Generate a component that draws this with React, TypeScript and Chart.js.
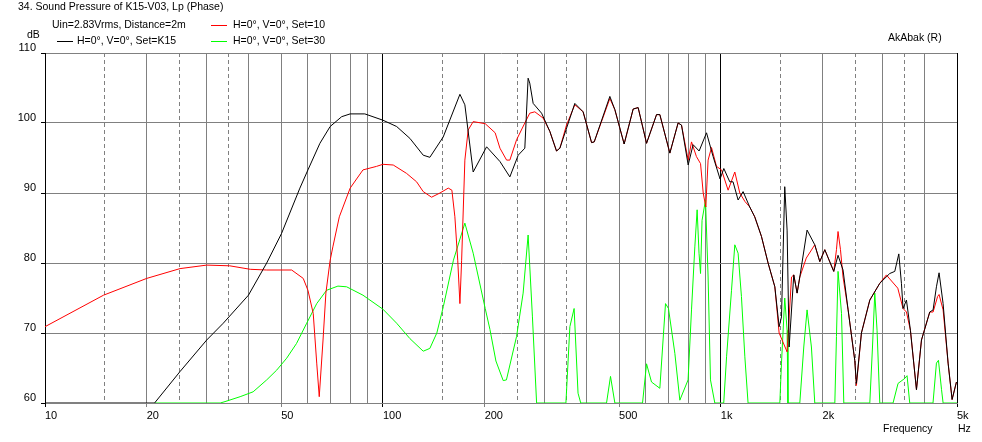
import React, { useEffect, useRef } from "react";
import { Chart, registerables } from "chart.js";

Chart.register(...registerables);

// ---- data: [frequency Hz, level dB] ----
const setK15: [number, number][] = [
  [10, 60], [21.1, 60], [25.1, 64.5], [30.1, 69], [33.7, 71.4], [40, 75.4], [45.3, 80], [50.1, 84.2],
  [56.8, 90.7], [60, 93.3], [65.1, 97.1], [69.8, 99.5], [75.5, 100.9], [80, 101.3], [88.4, 101.3],
  [100, 100.4], [109.8, 99.5], [120.2, 97.8], [131.6, 95.4], [137.7, 95.1], [150.8, 98], [169, 104.1],
  [174.8, 102.6], [185, 93], [202.7, 96.6], [222, 94.5], [237.5, 92.3], [251.4, 95.4], [263, 96.4],
  [269, 106.4], [272, 105.7], [278.4, 102.8], [294.8, 101.4], [311.9, 98.8], [326.4, 96], [334, 96.4],
  [369.8, 102.8], [391.3, 101.6], [414.5, 97.2], [422, 97.3], [469.5, 103.8], [485.8, 101.9],
  [517.5, 97], [550.4, 102], [569.3, 102.2], [602.9, 97.1], [645.4, 101.2], [660, 101.2],
  [706.6, 95.7], [747.5, 100], [765, 99.7], [800.6, 94], [827.9, 96.9], [862.6, 96], [907.2, 98.6],
  [948.9, 95.2], [995, 92], [1020.7, 93.5], [1063, 91.6], [1087, 91.6], [1125, 89], [1164, 90.2],
  [1218, 88], [1260, 86.6], [1319, 83.8], [1380, 80], [1445, 76.6], [1488, 70.9], [1512, 72.3],
  [1546, 90.9], [1571, 84.7], [1593, 68], [1644, 78.3], [1682, 75.7], [1713, 78], [1800, 84.7],
  [1897, 82.6], [1963, 80.2], [2031, 81.9], [2159, 78.8], [2223, 81.1], [2300, 79], [2381, 73.3],
  [2491, 66.1], [2519, 62.8], [2607, 70], [2760, 74.7], [2954, 77.1], [3162, 78.5], [3272, 78.8],
  [3363, 81.3], [3424, 77.1], [3462, 73.5], [3543, 74.7], [3640, 70.4], [3793, 61.9], [3925, 69],
  [4153, 73], [4248, 73.3], [4346, 76.6], [4425, 78.6], [4548, 74.2], [4706, 65.7], [4836, 60.5],
  [4981, 63],
];

const set10: [number, number][] = [
  [10, 70.9], [14.9, 75.4], [20, 77.8], [25.1, 79.2], [30.1, 79.7], [35.2, 79.6], [40.5, 79.1],
  [45.3, 79], [53.7, 79], [58.1, 77.8], [60, 76.1], [62.2, 72.8], [63.7, 65.7], [64.8, 60.9],
  [66.5, 69], [67.8, 75.7], [69.8, 80.4], [71.1, 82.3], [74.3, 86.6], [80, 90.7], [87.3, 93.3],
  [95.7, 93.8], [100, 94.1], [107.3, 94], [117.5, 92.8], [125.8, 91.6], [131.6, 90.2], [139.3, 89.4],
  [147.5, 90], [156.1, 90.7], [160, 90.4], [163.3, 86.6], [166.5, 80.4], [169, 74.2], [171, 80.4],
  [174.8, 94.7], [178.8, 99], [185, 100.2], [200.8, 99.9], [214.9, 98.6], [222, 96.4], [232.3, 94.7],
  [237.5, 94.7], [248.6, 97.6], [263, 100], [272, 101.4], [281.6, 101.6], [298, 100.7], [311.9, 98.8],
  [326.4, 96], [334, 96.4], [349.4, 99.7], [369.8, 102.6], [391.3, 101.6], [414.5, 97.2], [422, 97.3],
  [469.5, 103.5], [485.8, 101.9], [517.5, 97], [550.4, 102], [569.3, 102.2], [602.9, 97.1],
  [645.4, 101.2], [660, 101.2], [706.6, 95.7], [747.5, 100], [765, 99.7], [800.6, 94.7], [819, 97.3],
  [847, 95.2], [871, 94.2], [887, 90], [902.8, 88], [917, 94.7], [938.6, 96.5], [971, 93.8],
  [1005, 93.3], [1051, 90.4], [1100, 93], [1138, 90], [1178, 88.8], [1218, 88], [1260, 86.6],
  [1319, 83.8], [1380, 80], [1445, 76.6], [1488, 70], [1571, 67.3], [1619, 78], [1644, 78.3],
  [1682, 75.7], [1713, 78], [1790, 80.7], [1897, 82.6], [1963, 80.2], [2031, 81.9], [2159, 78.8],
  [2199, 81.9], [2223, 84.5], [2260, 81.9], [2300, 78], [2381, 73.3], [2491, 66.1], [2519, 62.5],
  [2607, 70], [2760, 74.7], [2954, 77.1], [3092, 78.3], [3126, 78], [3340, 76.4], [3462, 73.5],
  [3543, 73], [3640, 70.4], [3793, 61.9], [3925, 69], [4153, 73], [4248, 73], [4380, 75.2],
  [4425, 75.5], [4548, 73.3], [4706, 65.7], [4836, 60.5], [4981, 63],
];

const set30: [number, number][] = [
  [21.1, 60], [33, 60], [34.1, 60.2], [37.8, 60.9], [41.3, 61.6], [45.3, 63.3], [48.5, 64.7],
  [51.9, 66.4], [55.5, 68.5], [59.5, 71.4], [63.7, 74.2], [68.1, 76.1], [73.6, 76.7], [78.1, 76.6],
  [87.3, 75.4], [100, 73.4], [109.8, 71.4], [120.2, 69.2], [131.6, 67.4], [137.7, 67.8], [144.4, 70],
  [151, 73.8], [161.7, 80.4], [174.8, 85.7], [185, 81.4], [200.8, 73.5], [207.4, 70.5], [216, 66],
  [227, 63.2], [232, 63.3], [248.6, 69.5], [260, 75.7], [269, 84], [277, 72.3], [285, 60], [348, 60],
  [357.5, 70.9], [368, 73.5], [378, 61.4], [385, 60], [459, 60], [471.6, 63.8], [485.8, 60],
  [586.6, 60], [602.9, 65.6], [623.6, 63], [660, 62.1], [686, 74.2], [700, 73.5], [731.1, 67.1],
  [756.4, 60.4], [800, 63.3], [819, 73.3], [837.8, 82.3], [851, 87.6], [862, 81.4], [871, 78.5],
  [880, 86.1], [901, 89], [917, 78], [932, 63.3], [960, 60], [1020, 60], [1040, 66.6], [1075.6, 76.1],
  [1100, 82.6], [1125, 81.4], [1151, 75.2], [1178, 66.6], [1204, 60], [1495, 60], [1512, 65.7],
  [1546, 75], [1571, 70.4], [1580, 60], [1713, 60], [1760, 68], [1800, 73.3], [1854, 68], [1897, 60],
  [2175, 60], [2199, 69.5], [2223, 78.8], [2276, 72.8], [2312, 60], [2760, 60], [2811, 68],
  [2855, 75.7], [2900, 70.4], [2954, 60], [3234, 60], [3346, 62.8], [3500, 63.5], [3558, 63.9],
  [3623, 60], [4246, 60], [4346, 65.7], [4406, 66.1], [4500, 61.9], [4548, 60], [5000, 60],
];

// ---- axis tick definitions ----
const xGridFreqs = [10, 15, 20, 25, 30, 35, 40, 50, 60, 70, 80, 90, 100, 150, 200, 250, 300, 350, 400,
  500, 600, 700, 800, 900, 1000, 1500, 2000, 2500, 3000, 3500, 4000, 5000];
const xLabelFreqs = [10, 20, 50, 100, 200, 500, 1000, 2000, 5000];
const xLabelTexts = ["10", "20", "50", "100", "200", "500", "1k", "2k", "5k"];
const xDashedFreqs = [15, 25, 35, 150, 250, 350, 1500, 2500, 3500];
const xDarkFreqs = [10, 100, 1000, 5000];
const yTicks = [60, 70, 80, 90, 100, 110];

const FONT = '"Liberation Sans", Arial, sans-serif';
const GRID = "#808080";

const toXY = (arr: [number, number][]) => arr.map(([x, y]) => ({ x, y }));

export default function App() {
  const canvasRef = useRef<HTMLCanvasElement | null>(null);

  useEffect(() => {
    const canvas = canvasRef.current;
    if (!canvas) return;
    const chart = new Chart(canvas, {
      type: "line",
      data: {
        datasets: [
          { label: "H=0°, V=0°, Set=K15", data: toXY(setK15), borderColor: "#000000", borderWidth: 1, pointRadius: 0, tension: 0, order: 0 },
          { label: "H=0°, V=0°, Set=10", data: toXY(set10), borderColor: "#ff0000", borderWidth: 1, pointRadius: 0, tension: 0, order: 1 },
          { label: "H=0°, V=0°, Set=30", data: toXY(set30), borderColor: "#00ff00", borderWidth: 1, pointRadius: 0, tension: 0, order: 2 },
        ],
      },
      options: {
        responsive: false,
        animation: false,
        events: [],
        layout: { padding: { left: 0, top: 53, right: 25, bottom: 0 } },
        plugins: { legend: { display: false }, tooltip: { enabled: false }, title: { display: false } },
        scales: {
          x: {
            type: "logarithmic",
            position: "bottom",
            min: 10,
            max: 5000,
            afterBuildTicks: (s: any) => { s.ticks = xGridFreqs.map((v) => ({ value: v })); },
            afterFit: (s: any) => { s.height = 39; },
            ticks: {
              autoSkip: false,
              maxRotation: 0,
              minRotation: 0,
              align: "start",
              padding: 2,
              color: "#000",
              font: { family: FONT, size: 11 },
              callback: (v: any) => {
                const i = xLabelFreqs.indexOf(Number(v));
                return i >= 0 ? xLabelTexts[i] : "";
              },
            },
            grid: {
              lineWidth: 1,
              tickLength: 4,
              color: (ctx: any) => (ctx.tick && xDarkFreqs.includes(ctx.tick.value) ? "#000" : GRID),
              tickColor: (ctx: any) => {
                if (!ctx.tick || !xLabelFreqs.includes(ctx.tick.value)) return "rgba(0,0,0,0)";
                return xDarkFreqs.includes(ctx.tick.value) ? "#000" : GRID;
              },
            },
            border: {
              display: true,
              color: GRID,
              width: 1,
              dash: (ctx: any) => (ctx.tick && xDashedFreqs.includes(ctx.tick.value) ? [4, 3] : []),
            },
          },
          y: {
            type: "linear",
            min: 60,
            max: 110,
            afterBuildTicks: (s: any) => { s.ticks = yTicks.map((v) => ({ value: v })); },
            afterFit: (s: any) => { s.width = 45; },
            ticks: {
              padding: 5,
              labelOffset: -5,
              color: "#000",
              font: { family: FONT, size: 11 },
              callback: (v: any) => String(v),
            },
            grid: { color: GRID, lineWidth: 1, tickLength: 4, tickColor: "#000" },
            border: { display: true, color: "#000", width: 1 },
          },
        },
      },
    } as any);
    return () => chart.destroy();
  }, []);

  const txt: React.CSSProperties = {
    position: "absolute",
    font: `10.5px ${FONT}`,
    lineHeight: "13px",
    whiteSpace: "nowrap",
    color: "#000",
  };
  const seg = (left: number, top: number, color: string): React.CSSProperties => ({
    position: "absolute", left, top, width: 16, height: 1, background: color,
  });

  return (
    <div style={{ position: "fixed", left: 0, top: 0, width: 982, height: 442, background: "#fff", overflow: "hidden" }}>
      <canvas ref={canvasRef} width={982} height={442} style={{ position: "absolute", left: 0, top: 0, width: 982, height: 442 }} />
      <div style={{ ...txt, left: 18, top: 0 }}>34. Sound Pressure of K15-V03, Lp (Phase)</div>
      <div style={{ ...txt, left: 52, top: 18 }}>Uin=2.83Vrms, Distance=2m</div>
      <div style={seg(211, 25, "#ff0000")} />
      <div style={{ ...txt, left: 233, top: 18 }}>H=0°, V=0°, Set=10</div>
      <div style={{ ...txt, left: 27, top: 28 }}>dB</div>
      <div style={seg(57, 41, "#000000")} />
      <div style={{ ...txt, left: 77, top: 34 }}>H=0°, V=0°, Set=K15</div>
      <div style={seg(211, 41, "#00ff00")} />
      <div style={{ ...txt, left: 233, top: 34 }}>H=0°, V=0°, Set=30</div>
      <div style={{ ...txt, left: 888, top: 31 }}>AkAbak (R)</div>
      <div style={{ ...txt, left: 883, top: 422 }}>Frequency</div>
      <div style={{ ...txt, left: 958, top: 422 }}>Hz</div>
    </div>
  );
}
